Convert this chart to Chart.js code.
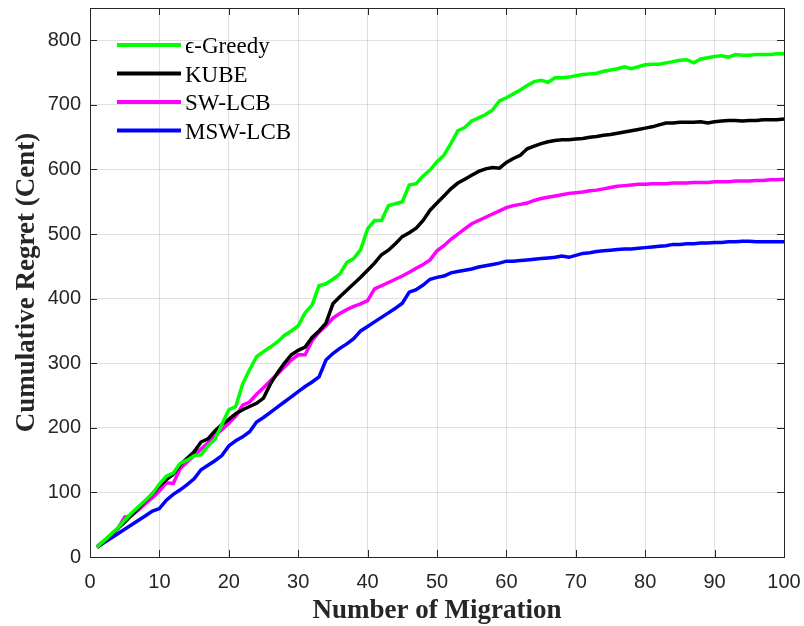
<!DOCTYPE html>
<html>
<head>
<meta charset="utf-8">
<script src="https://cdn.jsdelivr.net/npm/chart.js@4"></script>
<style>
  html, body { margin: 0; padding: 0; background: #fff; }
  #wrap { width: 804px; height: 626px; }
</style>
</head>
<body>
<div id="wrap"><canvas id="chart" width="804" height="626"></canvas></div>
<script>
// x = 1..100
const migrations = Array.from({ length: 100 }, (_, i) => i + 1);

const greedy = [
  15, 25, 35, 45, 57, 68, 78, 88, 98, 113,
  125, 130, 145, 150, 157, 158, 172, 182, 205, 228,
  233, 268, 290, 310, 318, 325, 333, 343, 350, 358,
  378, 390, 420, 423, 430, 438, 456, 462, 476, 508,
  521, 521, 544, 547, 550, 576, 578, 590, 599, 612,
  622, 640, 660, 665, 675, 680, 685, 692, 706, 711,
  717, 723, 730, 736, 738, 735, 742, 742, 743, 745,
  747, 748, 749, 752, 754, 756, 759, 756, 759, 762,
  763, 763, 765, 767, 769, 770, 765, 771, 773, 775,
  776, 774, 778, 777, 777, 778, 778, 778, 779, 779
];

const kube = [
  15, 24, 34, 44, 54, 65, 76, 87, 98, 110,
  120, 128, 143, 153, 163, 178, 183, 195, 205, 213,
  222, 228, 233, 238, 246, 268, 285, 300, 313, 320,
  325, 340, 350, 362, 392, 403, 413, 423, 433, 444,
  455, 468, 475, 485, 496, 502, 509, 521, 537, 548,
  559, 570, 579, 585, 591, 597, 601, 603, 602, 611,
  617, 622, 632, 636, 640, 643, 645, 646, 646, 647,
  648, 650, 651, 653, 654, 656, 658, 660, 662, 664,
  666, 669, 672, 672, 673, 673, 673, 674, 672, 674,
  675, 676, 676, 675, 676, 676, 677, 677, 677, 678
];

const swLcb = [
  16, 25, 34, 44, 62, 64, 73, 83, 92, 102,
  115, 114, 137, 147, 157, 167, 177, 188, 197, 207,
  218, 235, 240, 252, 262, 273, 283, 294, 305, 313,
  313, 335, 348, 358, 370, 377, 383, 388, 392, 397,
  415, 420, 425, 430, 435, 441, 447, 453, 460, 474,
  482, 492, 500, 508, 516, 521, 526, 531, 536, 541,
  544, 546, 548, 552, 555, 557, 559, 561, 563, 564,
  565, 567, 568, 570, 572, 574, 575, 576, 577, 577,
  578, 578, 578, 579, 579, 579, 580, 580, 580, 581,
  581, 581, 582, 582, 582, 583, 583, 584, 584, 585
];

const mswLcb = [
  15, 22, 29, 36, 43, 50, 57, 64, 71, 75,
  88, 97, 104, 112, 121, 135, 142, 149, 157, 172,
  180, 186, 194, 209, 216, 224, 232, 240, 248, 256,
  264, 271, 279, 305, 315, 323, 330, 338, 350, 357,
  364, 371, 378, 385, 393, 410, 414, 421, 430, 433,
  435, 440, 442, 444, 446, 449, 451, 453, 455, 458,
  458, 459, 460, 461, 462, 463, 464, 466, 464, 467,
  470, 471, 473, 474, 475, 476, 477, 477, 478, 479,
  480, 481, 482, 484, 484, 485, 485, 486, 486, 487,
  487, 488, 488, 489, 489, 488, 488, 488, 488, 488
];

const seriesNames = ['\u03F5-Greedy', 'KUBE', 'SW-LCB', 'MSW-LCB'];
const seriesColors = ['#00ff00', '#000000', '#ff00ff', '#0000ff'];
const seriesData = [greedy, kube, swLcb, mswLcb];

const xTicks = [0, 10, 20, 30, 40, 50, 60, 70, 80, 90, 100];
const yTicks = [0, 100, 200, 300, 400, 500, 600, 700, 800];

const axisColor = '#262626';
const tickFont = { family: 'Liberation Sans, Arial, sans-serif', size: 20 };
const titleFont = { family: 'Liberation Serif, Times New Roman, serif', size: 27, weight: 'bold' };

// box around the plot plus inward tick marks (MATLAB style)
const boxPlugin = {
    id: 'box',
    afterDatasetsDraw(chart) {
        const { ctx, chartArea: a, scales } = chart;
        ctx.save();
        ctx.strokeStyle = axisColor;
        ctx.lineWidth = 1;
        ctx.strokeRect(a.left + 0.5, a.top + 0.5, a.right - a.left, a.bottom - a.top);
        ctx.beginPath();
        const len = 7;
        xTicks.forEach(v => {
            const x = Math.round(scales.x.getPixelForValue(v)) + 0.5;
            ctx.moveTo(x, a.bottom); ctx.lineTo(x, a.bottom - len);
            ctx.moveTo(x, a.top); ctx.lineTo(x, a.top + len);
        });
        yTicks.forEach(v => {
            const y = Math.round(scales.y.getPixelForValue(v)) + 0.5;
            ctx.moveTo(a.left, y); ctx.lineTo(a.left + len, y);
            ctx.moveTo(a.right, y); ctx.lineTo(a.right - len, y);
        });
        ctx.stroke();
        ctx.restore();
    }
};

// legend drawn inside the plot, top left
const insideLegend = {
    id: 'insideLegend',
    afterDraw(chart) {
        const { ctx, chartArea: a } = chart;
        ctx.save();
        ctx.font = '23px "Liberation Serif", "Times New Roman", serif';
        ctx.textBaseline = 'middle';
        chart.data.datasets.forEach((ds, i) => {
            const y = a.top + 37 + i * 28.5;
            ctx.strokeStyle = ds.borderColor;
            ctx.lineWidth = 4;
            ctx.beginPath();
            ctx.moveTo(a.left + 27, y);
            ctx.lineTo(a.left + 91, y);
            ctx.stroke();
            ctx.fillStyle = '#000';
            ctx.fillText(ds.label, a.left + 95, y + 2);
        });
        ctx.restore();
    }
};

new Chart(document.getElementById('chart'), {
    type: 'line',
    data: {
        labels: migrations,
        datasets: seriesNames.map((name, i) => ({
            label: name,
            data: seriesData[i],
            borderColor: seriesColors[i],
            backgroundColor: seriesColors[i],
            borderWidth: 3.5,
            pointRadius: 0,
            tension: 0,
            fill: false,
        }))
    },
    options: {
        responsive: false,
        animation: false,
        layout: { padding: { left: 11, right: 20, top: 8, bottom: 0 } },
        plugins: {
            legend: { display: false },
            tooltip: { enabled: false },
        },
        scales: {
            x: {
                type: 'linear',
                min: 0,
                max: 100,
                afterBuildTicks: s => { s.ticks = xTicks.map(v => ({ value: v })); },
                afterFit: s => { s.height = 69; s.paddingLeft = 0; s.paddingRight = 0; },
                grid: { color: 'rgba(0,0,0,0.12)', drawTicks: false },
                border: { display: false },
                ticks: { color: axisColor, font: tickFont, padding: 13, maxRotation: 0 },
                title: {
                    display: true,
                    text: 'Number of Migration',
                    color: axisColor,
                    font: titleFont,
                    padding: { top: 0, bottom: -1 },
                },
            },
            y: {
                min: 0,
                max: 850,
                afterBuildTicks: s => { s.ticks = yTicks.map(v => ({ value: v })); },
                afterFit: s => { s.width = 79; s.paddingTop = 0; s.paddingBottom = 0; },
                grid: { color: 'rgba(0,0,0,0.12)', drawTicks: false },
                border: { display: false },
                ticks: { color: axisColor, font: tickFont, padding: 9 },
                title: {
                    display: true,
                    text: 'Cumulative Regret (Cent)',
                    color: axisColor,
                    font: titleFont,
                    padding: { top: 0, bottom: 4 },
                },
            },
        },
    },
    plugins: [boxPlugin, insideLegend],
});
</script>
</body>
</html>
